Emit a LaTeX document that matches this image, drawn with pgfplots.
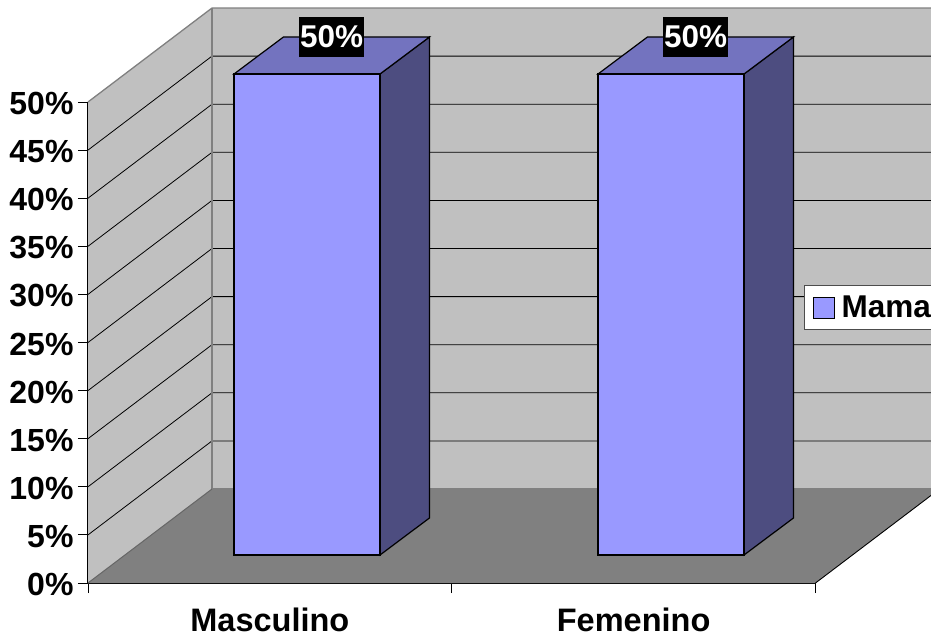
\documentclass[border=0pt]{standalone}
\usepackage{pgfplots}
\pgfplotsset{compat=1.18}
\usepackage{fontspec}
\setmainfont{Liberation Sans}
\definecolor{wallc}{HTML}{C0C0C0}
\definecolor{floorc}{HTML}{808080}
\definecolor{barf}{HTML}{9999FF}
\definecolor{bart}{HTML}{7373BF}
\definecolor{bars}{HTML}{4D4D80}
\newcommand{\bigf}{\fontsize{31.5}{36}\selectfont\bfseries}
\newcommand{\xf}{\fontsize{32.5}{36}\selectfont\bfseries}
\newcommand{\yf}{\fontsize{32}{36}\selectfont\bfseries}
\begin{document}
\begin{tikzpicture}
\path[use as bounding box,clip] (0,0) rectangle (931pt,637pt);
\begin{axis}[
  at={(88pt,54pt)},anchor=south west,
  x=363.75pt,y=9.62pt,
  xmin=0,xmax=2,ymin=0,ymax=50,
  clip=false,
  axis lines*=left,
  axis line style={-,black,line width=1.1pt},
  tick style={black,line width=0.9pt},
  tick align=outside,
  major tick length=10pt,
  xtick={0,1,2},
  x tick label as interval,
  xticklabels={Masculino,Femenino},
  ytick={0,5,...,50},
  yticklabels={0\%,5\%,10\%,15\%,20\%,25\%,30\%,35\%,40\%,45\%,50\%},
  yticklabel style={font=\yf,text=black,xshift=-1pt,yshift=-1.5pt},
  xticklabel style={font=\xf,text=black,yshift=-11pt},
  legend style={at={(axis cs:1.969,28.6)},anchor=west,draw=black!70,line width=0.8pt,
    fill=white,font=\bigf,inner xsep=8pt,inner ysep=3pt,
    minimum height=38pt,
    legend cell align=left},
]
% walls and floor
\addplot[forget plot,fill=wallc,draw=none] coordinates {(0.3409,9.77)(2.3409,9.77)(2.3409,59.77)(0.3409,59.77)} --cycle;
\addplot[forget plot,fill=wallc,draw=none] coordinates {(0,0)(0,50)(0.3409,59.77)(0.3409,9.77)} --cycle;
\addplot[forget plot,fill=floorc,draw=none] coordinates {(0,0)(2,0)(2.3409,9.77)(0.3409,9.77)} --cycle;
% gridlines
\addplot[forget plot,black,line width=0.8pt] coordinates {(0,5)(0.3409,14.77)(2.3409,14.77)};
\addplot[forget plot,black,line width=0.8pt] coordinates {(0,10)(0.3409,19.77)(2.3409,19.77)};
\addplot[forget plot,black,line width=0.8pt] coordinates {(0,15)(0.3409,24.77)(2.3409,24.77)};
\addplot[forget plot,black,line width=0.8pt] coordinates {(0,20)(0.3409,29.77)(2.3409,29.77)};
\addplot[forget plot,black,line width=0.8pt] coordinates {(0,25)(0.3409,34.77)(2.3409,34.77)};
\addplot[forget plot,black,line width=0.8pt] coordinates {(0,30)(0.3409,39.77)(2.3409,39.77)};
\addplot[forget plot,black,line width=0.8pt] coordinates {(0,35)(0.3409,44.77)(2.3409,44.77)};
\addplot[forget plot,black,line width=0.8pt] coordinates {(0,40)(0.3409,49.77)(2.3409,49.77)};
\addplot[forget plot,black,line width=0.8pt] coordinates {(0,45)(0.3409,54.77)(2.3409,54.77)};
% wall edges
\addplot[forget plot,floorc,line width=1.3pt] coordinates {(0,50)(0.3409,59.77)(2.3409,59.77)};
\addplot[forget plot,floorc,line width=1.3pt] coordinates {(0.3409,59.77)(0.3409,9.77)(2.3409,9.77)};
\addplot[forget plot,black!60,line width=1pt] coordinates {(0,0)(0.3409,9.77)};
\addplot[forget plot,black,line width=0.9pt] coordinates {(2,0)(2.3409,9.77)};
% bar 1
\addplot[forget plot,fill=bars,draw=black,line width=1.2pt] coordinates {(0.8027,2.91)(0.9388,6.76)(0.9388,56.76)(0.8027,52.91)} --cycle;
\addplot[forget plot,fill=bart,draw=black,line width=1.2pt] coordinates {(0.4014,52.91)(0.8027,52.91)(0.9388,56.76)(0.5375,56.76)} --cycle;
\addplot[forget plot,fill=barf,draw=black,line width=1.2pt] coordinates {(0.4014,2.91)(0.8027,2.91)(0.8027,52.91)(0.4014,52.91)} --cycle;
% bar 2
\addplot[forget plot,fill=bars,draw=black,line width=1.2pt] coordinates {(1.8034,2.91)(1.9395,6.76)(1.9395,56.76)(1.8034,52.91)} --cycle;
\addplot[forget plot,fill=bart,draw=black,line width=1.2pt] coordinates {(1.4021,52.91)(1.8034,52.91)(1.9395,56.76)(1.5382,56.76)} --cycle;
\addplot[forget plot,fill=barf,draw=black,line width=1.2pt] coordinates {(1.4021,2.91)(1.8034,2.91)(1.8034,52.91)(1.4021,52.91)} --cycle;
% data labels
\addplot[forget plot,draw=none,mark=none,nodes near coords={50\%},
  nodes near coords align=center,
  every node near coord/.style={anchor=center,fill=black,text=white,font=\bigf,
    minimum width=65pt,minimum height=40pt,inner sep=0pt}]
  coordinates {(0.6695,56.76)(1.6702,56.76)};
\addlegendimage{legend image code/.code={\draw[fill=barf,draw=black,line width=1pt] (0pt,-10.5pt) rectangle (21pt,10.5pt);}}
\addlegendentry{\hspace{5pt}Mama}
\end{axis}
\end{tikzpicture}
\end{document}
